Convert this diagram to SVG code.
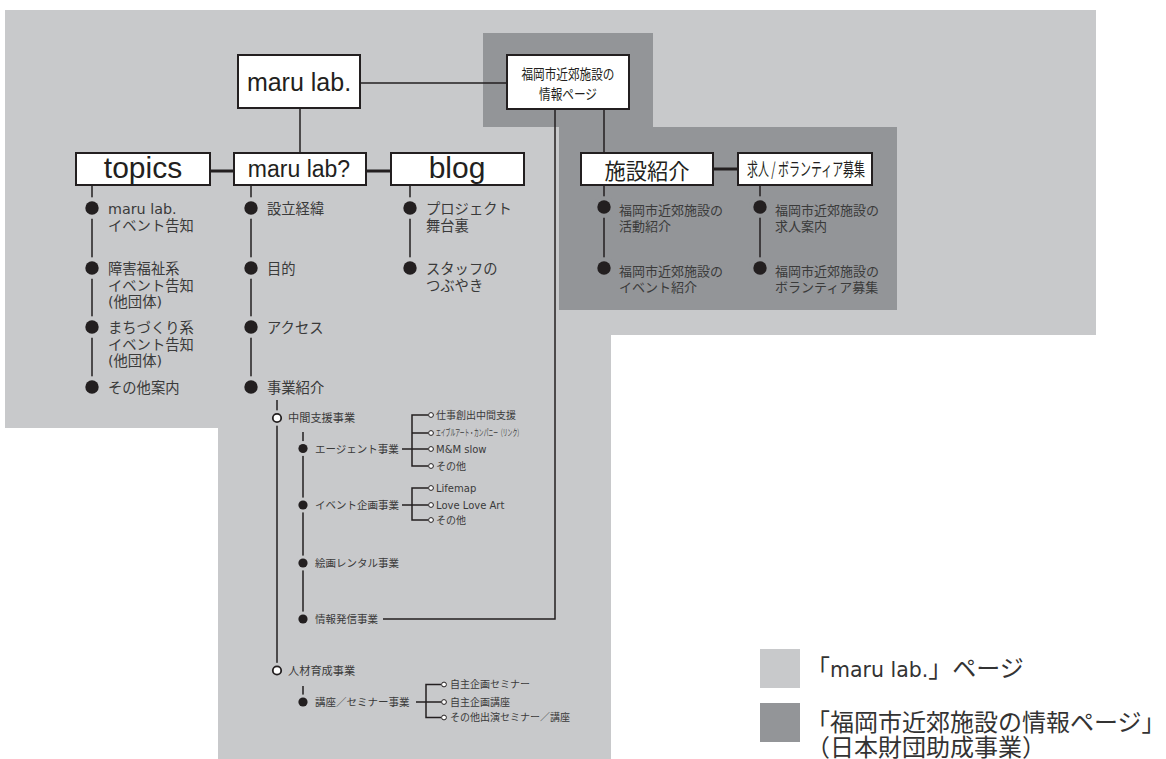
<svg xmlns="http://www.w3.org/2000/svg" xmlns:xlink="http://www.w3.org/1999/xlink" width="1166" height="759" viewBox="0 0 1166 759">
<defs>
<style>
.light{fill:#c8c9cb}
.dark{fill:#939598}
.box{fill:#fff;stroke:#231f20;stroke-width:2}
.ln{stroke:#231f20;stroke-width:1.5;fill:none}
.thick{stroke:#231f20;stroke-width:3;fill:none}
.bt{font-family:"Liberation Sans","Noto Sans CJK JP",sans-serif;fill:#231f20}
.jt{font-family:"Noto Sans CJK JP",sans-serif;fill:#231f20}
.t{font-family:"DejaVu Sans","Noto Sans CJK JP",sans-serif;fill:#3a3a3a}
.l1{font-size:14.3px}
.l2{font-size:13px}
.s1{font-size:11.2px}
.s2{font-size:10.5px}
.s3{font-size:10px}
.blk{fill:#231f20}
.ho{fill:#fff;stroke:#231f20;stroke-width:1.8}
.tiny{fill:#fff;stroke:#231f20;stroke-width:1}
.lg{font-family:"Noto Sans CJK JP",sans-serif;font-size:24px;fill:#333}
</style>
<g id="b1"><circle class="light" r="10.8"/><circle class="blk" r="6.7"/></g>
<g id="b1d"><circle class="dark" r="10.8"/><circle class="blk" r="6.7"/></g>
<g id="b2"><circle class="light" r="7.5"/><circle class="blk" r="4.6"/></g>
<g id="h1"><circle class="light" r="7.8"/><circle class="ho" r="4.2"/></g>
</defs>

<g id="backgrounds">
<path class="light" d="M5,10 H1096 V335 H611 V759 H218 V428 H5 Z"/>
<path class="dark" d="M483,33 H653 V127 H897 V310 H559 V127 H483 Z"/>
</g>

<g id="connectors">
<line class="ln" x1="360" y1="83" x2="507" y2="83"/>
<line class="ln" x1="300" y1="108" x2="300" y2="153"/>
<line class="thick" x1="210" y1="171" x2="234" y2="171"/>
<line class="thick" x1="366" y1="171" x2="391" y2="171"/>
<line class="ln" x1="604" y1="109" x2="604" y2="153"/>
<line class="thick" x1="713" y1="169" x2="738" y2="169"/>
<polyline class="ln" points="555,109 555,619 383,619"/>
<line class="ln" x1="92" y1="185" x2="92" y2="387"/>
<line class="ln" x1="251" y1="185" x2="251" y2="387"/>
<line class="ln" x1="410" y1="185" x2="410" y2="268"/>
<line class="ln" x1="604" y1="185" x2="604" y2="268"/>
<line class="ln" x1="760" y1="185" x2="760" y2="268"/>
<line class="ln" x1="277" y1="400" x2="277" y2="670"/>
<line class="ln" x1="303" y1="432" x2="303" y2="619"/>
<line class="ln" x1="303" y1="686" x2="303" y2="702"/>
<path class="ln" d="M402,449 H428 M428,415 H412 V466 H428 M412,433 H428"/>
<path class="ln" d="M402,505 H428 M428,488 H412 V520 H428"/>
<path class="ln" d="M416,702 H441 M441,684.5 H426 V717.5 H441"/>
</g>

<g id="node-marulab">
<rect class="box" x="238" y="55" width="122" height="53"/>
<text class="bt" x="299" y="91" font-size="25" text-anchor="middle">maru lab.</text>
</g>

<g id="node-fukuoka">
<rect class="box" x="507" y="55" width="122" height="54"/>
<text class="jt" x="568" y="79" font-size="14" text-anchor="middle" textLength="93" lengthAdjust="spacingAndGlyphs">福岡市近郊施設の</text>
<text class="jt" x="568" y="98.6" font-size="14" text-anchor="middle" textLength="58" lengthAdjust="spacingAndGlyphs">情報ページ</text>
</g>

<g id="node-topics">
<rect class="box" x="76" y="153" width="134" height="32"/>
<text class="bt" x="143" y="178" font-size="30" text-anchor="middle">topics</text>
</g>

<g id="node-marulab-q">
<rect class="box" x="234" y="153" width="132" height="32"/>
<text class="bt" x="299" y="177" font-size="23" text-anchor="middle">maru lab?</text>
</g>

<g id="node-blog">
<rect class="box" x="391" y="153" width="133" height="32"/>
<text class="bt" x="457" y="178" font-size="30" text-anchor="middle">blog</text>
</g>

<g id="node-shisetsu">
<rect class="box" x="581" y="153" width="132" height="32"/>
<text class="jt" x="647" y="179" font-size="22" text-anchor="middle" textLength="85" lengthAdjust="spacingAndGlyphs">施設紹介</text>
</g>

<g id="node-kyujin">
<rect class="box" x="738" y="153" width="134" height="32"/>
<text class="jt" x="806" y="176" font-size="18" text-anchor="middle" textLength="118" lengthAdjust="spacingAndGlyphs">求人 / ボランティア募集</text>
</g>

<g id="list-topics">
<use xlink:href="#b1" href="#b1" x="92" y="208"/>
<text class="t l1" x="108" y="214"><tspan x="108">maru lab.</tspan><tspan x="108" dy="16.5">イベント告知</tspan></text>
<use xlink:href="#b1" href="#b1" x="92" y="268"/>
<text class="t l1" x="108" y="274"><tspan x="108">障害福祉系</tspan><tspan x="108" dy="16.5">イベント告知</tspan><tspan x="108" dy="16.5">(他団体)</tspan></text>
<use xlink:href="#b1" href="#b1" x="92" y="327"/>
<text class="t l1" x="108" y="333"><tspan x="108">まちづくり系</tspan><tspan x="108" dy="16.5">イベント告知</tspan><tspan x="108" dy="16.5">(他団体)</tspan></text>
<use xlink:href="#b1" href="#b1" x="92" y="387"/>
<text class="t l1" x="108" y="393">その他案内</text>
</g>

<g id="list-marulab-q">
<use xlink:href="#b1" href="#b1" x="251" y="208"/>
<text class="t l1" x="267" y="214">設立経緯</text>
<use xlink:href="#b1" href="#b1" x="251" y="268"/>
<text class="t l1" x="267" y="274">目的</text>
<use xlink:href="#b1" href="#b1" x="251" y="327"/>
<text class="t l1" x="267" y="333">アクセス</text>
<use xlink:href="#b1" href="#b1" x="251" y="387"/>
<text class="t l1" x="267" y="393">事業紹介</text>
</g>

<g id="list-blog">
<use xlink:href="#b1" href="#b1" x="410" y="208"/>
<text class="t l1" x="426" y="214"><tspan x="426">プロジェクト</tspan><tspan x="426" dy="16.5">舞台裏</tspan></text>
<use xlink:href="#b1" href="#b1" x="410" y="268"/>
<text class="t l1" x="426" y="274"><tspan x="426">スタッフの</tspan><tspan x="426" dy="16.5">つぶやき</tspan></text>
</g>

<g id="list-shisetsu">
<use xlink:href="#b1d" href="#b1d" x="604" y="207"/>
<text class="t l2" x="619" y="215"><tspan x="619">福岡市近郊施設の</tspan><tspan x="619" dy="15.5">活動紹介</tspan></text>
<use xlink:href="#b1d" href="#b1d" x="604" y="268"/>
<text class="t l2" x="619" y="276"><tspan x="619">福岡市近郊施設の</tspan><tspan x="619" dy="15.5">イベント紹介</tspan></text>
</g>

<g id="list-kyujin">
<use xlink:href="#b1d" href="#b1d" x="760" y="207"/>
<text class="t l2" x="775" y="215"><tspan x="775">福岡市近郊施設の</tspan><tspan x="775" dy="15.5">求人案内</tspan></text>
<use xlink:href="#b1d" href="#b1d" x="760" y="268"/>
<text class="t l2" x="775" y="276"><tspan x="775">福岡市近郊施設の</tspan><tspan x="775" dy="15.5">ボランティア募集</tspan></text>
</g>

<g id="node-chukan">
<use xlink:href="#h1" href="#h1" x="277" y="418"/>
<text class="t s1" x="288" y="422.2">中間支援事業</text>
</g>

<g id="node-agent">
<use xlink:href="#b2" href="#b2" x="303" y="448.5"/>
<text class="t s2" x="315" y="452.5">エージェント事業</text>
<circle class="tiny" cx="431" cy="415" r="2.4"/>
<text class="t s3" x="436" y="418.6">仕事創出中間支援</text>
<circle class="tiny" cx="431" cy="433" r="2.4"/>
<text class="t" x="436" y="436.3" font-size="9" textLength="86" lengthAdjust="spacingAndGlyphs">エイブルアート・カンパニー（リンク）</text>
<circle class="tiny" cx="431" cy="449" r="2.4"/>
<text class="t s3" x="436" y="452.6">M&amp;M slow</text>
<circle class="tiny" cx="431" cy="466" r="2.4"/>
<text class="t s3" x="436" y="469.6">その他</text>
</g>

<g id="node-event">
<use xlink:href="#b2" href="#b2" x="303" y="505"/>
<text class="t s2" x="315" y="509">イベント企画事業</text>
<circle class="tiny" cx="431" cy="488" r="2.4"/>
<text class="t s3" x="436" y="491.6">Lifemap</text>
<circle class="tiny" cx="431" cy="505" r="2.4"/>
<text class="t s3" x="436" y="508.6">Love Love Art</text>
<circle class="tiny" cx="431" cy="520" r="2.4"/>
<text class="t s3" x="436" y="523.6">その他</text>
</g>

<g id="node-kaiga">
<use xlink:href="#b2" href="#b2" x="303" y="563"/>
<text class="t s2" x="315" y="567">絵画レンタル事業</text>
</g>

<g id="node-joho">
<use xlink:href="#b2" href="#b2" x="303" y="619"/>
<text class="t s2" x="315" y="623">情報発信事業</text>
</g>

<g id="node-jinzai">
<use xlink:href="#h1" href="#h1" x="277" y="670.5"/>
<text class="t s1" x="288" y="674.7">人材育成事業</text>
</g>

<g id="node-koza">
<use xlink:href="#b2" href="#b2" x="303" y="702"/>
<text class="t s2" x="315" y="706">講座／セミナー事業</text>
<circle class="tiny" cx="444" cy="684.5" r="2.4"/>
<text class="t s3" x="450" y="688.1">自主企画セミナー</text>
<circle class="tiny" cx="444" cy="702" r="2.4"/>
<text class="t s3" x="450" y="705.6">自主企画講座</text>
<circle class="tiny" cx="444" cy="717.5" r="2.4"/>
<text class="t s3" x="450" y="721.1">その他出演セミナー／講座</text>
</g>

<g id="legend">
<rect class="light" x="760" y="649" width="40" height="39"/>
<text class="lg" x="806" y="677">「<tspan font-family="DejaVu Sans" font-size="20.5">maru lab.</tspan>」ページ</text>
<rect class="dark" x="760" y="703" width="40" height="39"/>
<text class="lg" x="806" y="731">「福岡市近郊施設の情報ページ」</text>
<text class="lg" x="806" y="756">（日本財団助成事業）</text>
</g>
</svg>
